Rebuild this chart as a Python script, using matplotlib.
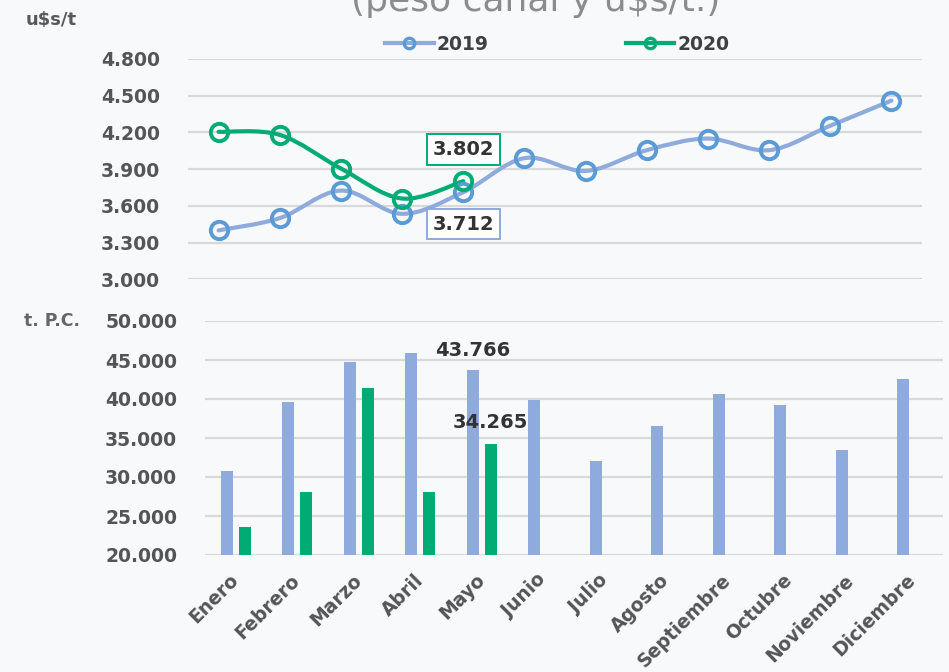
import numpy as np
import matplotlib.pyplot as plt
from matplotlib.path import Path
from matplotlib.patches import PathPatch
from matplotlib.lines import Line2D
from matplotlib.ticker import FuncFormatter

meses = ["Enero", "Febrero", "Marzo", "Abril", "Mayo", "Junio", "Julio",
         "Agosto", "Septiembre", "Octubre", "Noviembre", "Diciembre"]

# precio u$s/t
precio_2019 = [3400, 3500, 3725, 3535, 3712, 3990, 3885, 4055, 4150, 4055, 4255, 4460]
precio_2020 = [4205, 4180, 3905, 3660, 3802]

# faena t. P.C.
faena_2019 = [30800, 39600, 44700, 45900, 43766, 39900, 32000, 36500, 40700, 39200, 33500, 42600]
faena_2020 = [23600, 28100, 41400, 28100, 34265]

azul = "#8FAADC"
azul_marca = "#5B9BD5"
verde = "#00AC73"
fondo = "#F7F9FB"
gris_txt = "#555555"
grid_col = "#D9D9D9"


def miles(v, pos=None):
    return f"{v:,.0f}".replace(",", ".")


def curva(x, y):
    # suavizado tipo Excel (Catmull-Rom -> Bezier), solo para el trazo
    pts = np.column_stack([x, y]).astype(float)
    n = len(pts)
    verts = [pts[0]]
    codes = [Path.MOVETO]
    for i in range(n - 1):
        p0 = pts[max(i - 1, 0)]
        p1 = pts[i]
        p2 = pts[i + 1]
        p3 = pts[min(i + 2, n - 1)]
        verts += [p1 + (p2 - p0) / 6, p2 - (p3 - p1) / 6, p2]
        codes += [Path.CURVE4] * 3
    return Path(verts, codes)


plt.rcParams['font.family'] = ['DejaVu Sans']

fig = plt.figure(figsize=(9.49, 6.72), dpi=100, facecolor=fondo)

# ---- precios ----
ax1 = fig.add_axes([188 / 949, 1 - 279.3 / 672, 734 / 949, 220.3 / 672], facecolor=fondo)
x = np.arange(len(meses))
x20 = np.arange(len(precio_2020))

ax1.add_patch(PathPatch(curva(x, precio_2019), fc="none", ec=azul, lw=3, zorder=3,
                        capstyle="round"))
ax1.add_patch(PathPatch(curva(x20, precio_2020), fc="none", ec=verde, lw=3, zorder=4,
                        capstyle="round"))
ax1.plot(x, precio_2019, ls="none", marker="o", ms=12.5, mfc="none", mec=azul_marca,
         mew=2.8, zorder=5)
ax1.plot(x20, precio_2020, ls="none", marker="o", ms=12.5, mfc="none", mec=verde,
         mew=2.8, zorder=6)

ax1.set_xlim(-0.5, len(meses) - 0.5)
ax1.set_ylim(3000, 4800)
ax1.set_yticks(np.arange(3000, 4801, 300))
ax1.yaxis.set_major_formatter(FuncFormatter(miles))
ax1.set_xticks([])
for s in ax1.spines.values():
    s.set_visible(False)
ax1.grid(axis="y", color=grid_col, lw=1.6)
ax1.set_axisbelow(True)
ax1.tick_params(axis="y", length=0, pad=20, labelsize=13.5, labelcolor=gris_txt)
for t in ax1.get_yticklabels():
    t.set_fontweight("bold")

ax1.annotate(miles(precio_2020[4]), (4, precio_2020[4]), xytext=(0, 23),
             textcoords="offset points", ha="center", va="center", fontsize=14,
             fontweight="bold", color="#333333", zorder=10,
             bbox=dict(boxstyle="square,pad=0.3", fc="white", ec=verde, lw=1.4))
ax1.annotate(miles(precio_2019[4]), (4, precio_2019[4]), xytext=(0, -23),
             textcoords="offset points", ha="center", va="center", fontsize=14,
             fontweight="bold", color="#333333", zorder=10,
             bbox=dict(boxstyle="square,pad=0.3", fc="white", ec=azul, lw=1.4))

handles = [
    Line2D([], [], color=azul, lw=3, marker="o", ms=7.5, mfc="none", mec=azul_marca, mew=2.4),
    Line2D([], [], color=verde, lw=3, marker="o", ms=7.5, mfc="none", mec=verde, mew=2.4),
]
leg = fig.legend(handles, ["2019", "2020"], loc="center", bbox_to_anchor=(0.587, 1 - 44 / 672),
                 ncol=2, frameon=False, handlelength=2.6, handletextpad=0.15,
                 columnspacing=7.3, prop=dict(size=13.5, weight="bold"))
for t in leg.get_texts():
    t.set_color("#404040")

# ---- faena ----
ax2 = fig.add_axes([205 / 949, 1 - 555 / 672, 738 / 949, 234 / 672], facecolor=fondo)
ancho = 0.2
ax2.bar(x - 0.145, [v - 20000 for v in faena_2019], ancho, bottom=20000, color=azul,
        zorder=3)
ax2.bar(x20 + 0.145, [v - 20000 for v in faena_2020], ancho, bottom=20000, color=verde,
        zorder=3)
ax2.set_xlim(-0.5, len(meses) - 0.5)
ax2.set_ylim(20000, 50000)
ax2.set_yticks(np.arange(20000, 50001, 5000))
ax2.yaxis.set_major_formatter(FuncFormatter(miles))
for s in ax2.spines.values():
    s.set_visible(False)
ax2.grid(axis="y", color=grid_col, lw=1.6)
ax2.set_axisbelow(True)
ax2.tick_params(axis="y", length=0, pad=20, labelsize=13.5, labelcolor=gris_txt)
ax2.tick_params(axis="x", length=0, pad=16)
ax2.set_xticks(x)
ax2.set_xticklabels(meses, rotation=45, ha="right", va="center", rotation_mode="anchor",
                    fontsize=13.5, fontweight="bold", color=gris_txt)
for t in ax2.get_yticklabels():
    t.set_fontweight("bold")

ax2.annotate(miles(faena_2019[4]), (4 - 0.145, faena_2019[4]), xytext=(0, 14),
             textcoords="offset points", ha="center", va="center", fontsize=14,
             fontweight="bold", color="#333333")
ax2.annotate(miles(faena_2020[4]), (4 + 0.145, faena_2020[4]), xytext=(0, 15),
             textcoords="offset points", ha="center", va="center", fontsize=14,
             fontweight="bold", color="#333333")

# ---- textos ----
fig.text(536 / 949, 1 - 11 / 672, "(peso canal y u$s/t.)", ha="center", va="baseline",
         fontsize=26, color="#8C8C8C")
fig.text(51 / 949, 1 - 20 / 672, "u$s/t", ha="center", va="center", fontsize=13,
         fontweight="bold", color="#595959")
fig.text(52 / 949, 1 - 321 / 672, "t. P.C.", ha="center", va="center", fontsize=12.5,
         fontweight="bold", color="#666666")

fig.savefig("out.png", dpi=100, facecolor=fondo)
